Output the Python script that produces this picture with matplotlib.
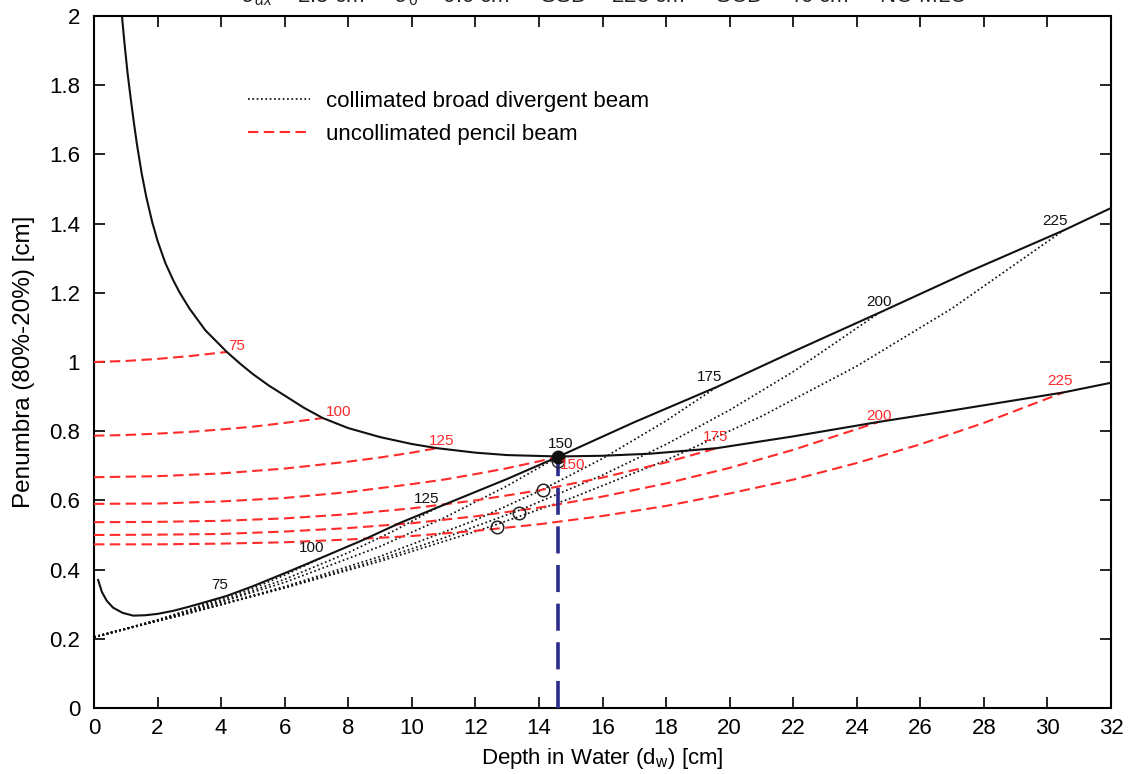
import matplotlib
matplotlib.use("Agg")
import matplotlib.pyplot as plt
from matplotlib.ticker import FixedLocator

plt.rcParams['font.family'] = ['Liberation Sans', 'DejaVu Sans']
plt.rcParams['mathtext.fontset'] = 'custom'
plt.rcParams['mathtext.rm'] = 'Liberation Sans'
plt.rcParams['mathtext.it'] = 'Liberation Sans:italic'

# ---- data -------------------------------------------------------------
params = [75, 100, 125, 150, 175, 200, 225]

# locus of pencil-beam end points (upper solid curve)
upper_x = [0.80, 0.88, 0.95, 1.05, 1.15, 1.25, 1.35, 1.5, 1.65, 1.83, 2.0, 2.25, 2.5, 2.7,
           3.0, 3.5, 4.18, 4.6, 5.0, 5.5, 6.0, 6.6, 7.2, 8.0, 9.0, 10.0, 10.79, 12.0,
           13.0, 14.6, 16.0, 17.5, 19.6, 22.0, 24.7, 27.0, 30.5, 32.0]
upper_y = [2.12, 2.00, 1.93, 1.84, 1.765, 1.695, 1.63, 1.545, 1.475, 1.405, 1.35, 1.285,
           1.235, 1.20, 1.155, 1.092, 1.029, 0.995, 0.965, 0.932, 0.903, 0.868, 0.838,
           0.809, 0.783, 0.763, 0.751, 0.738, 0.731, 0.727, 0.729, 0.735, 0.751, 0.785,
           0.827, 0.86, 0.912, 0.94]

# locus of broad-beam end points (lower solid curve)
lower_x = [0.13, 0.25, 0.4, 0.6, 0.9, 1.23, 1.6, 2.0, 2.5, 3.0, 3.5, 4.18, 5.0, 6.17, 7.2,
           8.5, 9.63, 10.79, 13.0, 14.6, 17.0, 19.6, 22.0, 24.7, 27.5, 30.5, 32.0]
lower_y = [0.37, 0.335, 0.31, 0.29, 0.275, 0.267, 0.268, 0.272, 0.281, 0.293, 0.306, 0.324,
           0.352, 0.396, 0.436, 0.487, 0.535, 0.579, 0.662, 0.726, 0.826, 0.928, 1.03,
           1.142, 1.26, 1.38, 1.445]

# uncollimated pencil beam, one curve per parameter
pencil_x = [
    [0, 1, 2, 3, 4.18],
    [0, 1, 2, 3, 4, 5, 6, 7.2],
    [0, 2, 4, 6, 8, 9, 10, 10.79],
    [0, 2, 4, 6, 8, 10, 11, 12, 13, 14, 14.6],
    [0, 2, 4, 6, 8, 10, 12, 14, 16, 18, 19.6],
    [0, 2, 4, 6, 8, 10, 12, 14, 16, 18, 20, 22, 24.7],
    [0, 2, 4, 6, 8, 10, 12, 14, 16, 18, 20, 22, 24, 26, 28, 30.5],
]
pencil_y = [
    [1.000, 1.003, 1.009, 1.017, 1.029],
    [0.787, 0.789, 0.793, 0.798, 0.805, 0.813, 0.824, 0.838],
    [0.667, 0.670, 0.678, 0.692, 0.712, 0.724, 0.738, 0.751],
    [0.590, 0.591, 0.597, 0.607, 0.624, 0.647, 0.660, 0.676, 0.693, 0.713, 0.726],
    [0.537, 0.538, 0.541, 0.548, 0.560, 0.577, 0.600, 0.629, 0.666, 0.710, 0.751],
    [0.500, 0.501, 0.503, 0.510, 0.520, 0.534, 0.554, 0.579, 0.611, 0.649, 0.694, 0.746, 0.827],
    [0.473, 0.473, 0.475, 0.479, 0.487, 0.497, 0.512, 0.531, 0.555, 0.584, 0.620, 0.660,
     0.708, 0.762, 0.824, 0.912],
]

# collimated broad divergent beam, one curve per parameter
broad_x = [
    [0, 1, 2, 3, 4.18],
    [0, 2, 4, 5, 6, 7.2],
    [0, 2, 4, 6, 8, 9.5, 10.79],
    [0, 3, 6, 9, 11, 13, 14.6],
    [0, 3, 6, 9, 12, 14.13, 16, 18, 19.6],
    [0, 3, 6, 9, 11, 13.37, 16, 18, 20, 22, 24.7],
    [0, 3, 6, 9, 12, 12.68, 15, 18, 21, 24, 27, 30.5],
]
broad_y = [
    [0.205, 0.229, 0.255, 0.284, 0.324],
    [0.205, 0.254, 0.312, 0.346, 0.384, 0.436],
    [0.205, 0.253, 0.307, 0.372, 0.449, 0.515, 0.579],
    [0.205, 0.278, 0.363, 0.467, 0.549, 0.642, 0.726],
    [0.205, 0.275, 0.351, 0.438, 0.543, 0.632, 0.721, 0.830, 0.928],
    [0.205, 0.275, 0.348, 0.430, 0.491, 0.571, 0.673, 0.762, 0.861, 0.972, 1.142],
    [0.205, 0.274, 0.347, 0.424, 0.510, 0.531, 0.606, 0.716, 0.843, 0.988, 1.155, 1.380],
]

# crossings of broad and pencil curves for 225, 200, 175
cross_x = [12.68, 13.37, 14.13]
cross_y = [0.523, 0.564, 0.630]

# optimum point (150)
opt_x = 14.6
opt_y = 0.726

x_ticks = list(range(0, 33, 2))
y_ticks = [0, 0.2, 0.4, 0.6, 0.8, 1.0, 1.2, 1.4, 1.6, 1.8, 2.0]
y_tick_labels = ["0", "0.2", "0.4", "0.6", "0.8", "1", "1.2", "1.4", "1.6", "1.8", "2"]

# label offsets (pixels) relative to each curve end
broad_lbl_off = [(-7, 11), (-11, 9), (-10, 9), (3, 13), (-7, 10), (0, 11), (-8, 10)]
pencil_lbl_off = [(10, 6), (16, 6), (5, 7), (15, -8), (-1, 11), (0, 6), (-3, 11)]

# ---- figure -----------------------------------------------------------
fig = plt.figure(figsize=(11.28, 7.74), dpi=100)
ax = fig.add_axes([94 / 1128, 66 / 774, 1017 / 1128, 692 / 774])

red = '#ff2a2a'
dot_style = (0, (1, 1.5))
dash_style = (0, (5, 2.6))

for bx, by in zip(broad_x, broad_y):
    ax.plot(bx, by, color='#111111', lw=1.25, linestyle=dot_style, zorder=2)
for px, py in zip(pencil_x, pencil_y):
    ax.plot(px, py, color=red, lw=1.5, linestyle=dash_style, zorder=3)

ax.plot(upper_x, upper_y, color='#111111', lw=1.5, zorder=4)
ax.plot(lower_x, lower_y, color='#111111', lw=1.5, zorder=4)

ax.plot([opt_x, opt_x], [0, opt_y], color='#2b2b8c', lw=2.6,
        linestyle=(0, (7.5, 3.2)), zorder=5)
ax.plot(cross_x, cross_y, 'o', ms=9, mfc='none', mec='#222222', mew=1.1, zorder=6)
ax.plot([opt_x], [opt_y], 'o', ms=9, mfc='#111111', mec='#111111', zorder=7)
ax.plot([opt_x], [opt_y - 0.012], 'o', ms=9, mfc='none', mec='#222222', mew=1.0, zorder=6)

for p, bx, by, off in zip(params, broad_x, broad_y, broad_lbl_off):
    ax.annotate(str(p), (bx[-1], by[-1]), xytext=off, textcoords='offset pixels',
                ha='center', va='center', fontsize=11, color='#111111', zorder=8)
for p, px, py, off in zip(params, pencil_x, pencil_y, pencil_lbl_off):
    ax.annotate(str(p), (px[-1], py[-1]), xytext=off, textcoords='offset pixels',
                ha='center', va='center', fontsize=11, color=red, zorder=8)

# legend
h1, = ax.plot([], [], color='#111111', lw=1.25, linestyle=dot_style,
              label='collimated broad divergent beam')
h2, = ax.plot([], [], color=red, lw=1.5, linestyle=dash_style,
              label='uncollimated pencil beam')
ax.legend(handles=[h1, h2], loc='upper left', bbox_to_anchor=(0.151, 0.892),
          frameon=False, fontsize=16, handlelength=2.8, handletextpad=0.72,
          borderpad=0, borderaxespad=0, labelspacing=0.55)

ax.set_xlim(0, 32)
ax.set_ylim(0, 2)
ax.xaxis.set_major_locator(FixedLocator(x_ticks))
ax.yaxis.set_major_locator(FixedLocator(y_ticks))
ax.set_yticklabels(y_tick_labels)
ax.tick_params(direction='in', length=8, width=1.2, top=True, right=True,
               labelsize=16)
ax.tick_params(axis='y', pad=10)
ax.tick_params(axis='x', pad=7)
for s in ax.spines.values():
    s.set_linewidth(1.5)

ax.set_xlabel(r'Depth in Water ($\mathregular{d_w}$) [cm]', fontsize=16, labelpad=5)
ax.set_ylabel('Penumbra (80%-20%) [cm]', fontsize=17.5, labelpad=10)

fig.text(0.535, 0.9975,
         r'$\sigma_{\alpha x}$ = 2.5 cm     $\sigma_0$ = 0.0 cm     SSD = 225 cm     SCD = 40 cm     NO MLC',
         ha='center', va='baseline', fontsize=16, color='#222222')

fig.savefig('out.png', dpi=100)
